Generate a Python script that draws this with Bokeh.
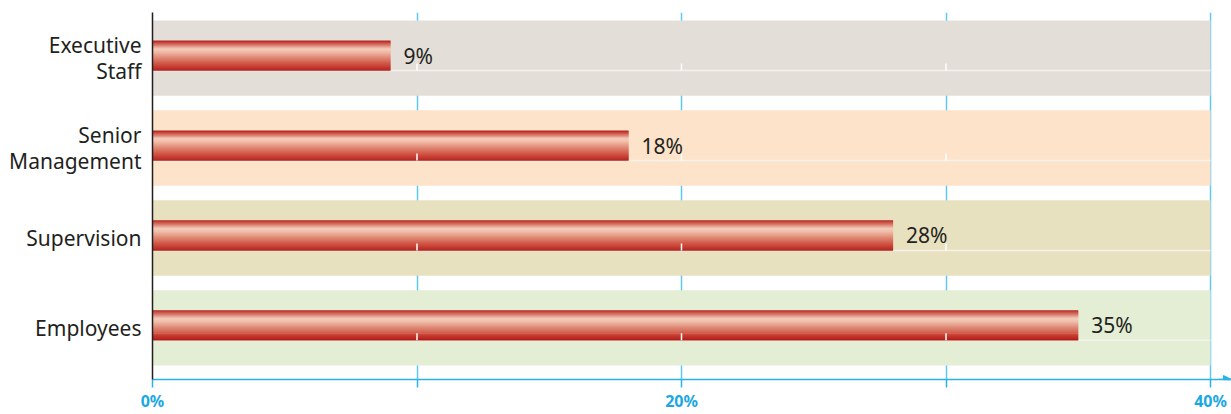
from bokeh.plotting import figure
from bokeh.models import Range1d, FixedTicker, ColumnDataSource, Arrow, NormalHead
from bokeh.core.properties import value
from bokeh.embed import file_html
from bokeh.resources import INLINE

# ---- data ----
categories = ["Executive\nStaff", "Senior\nManagement", "Supervision", "Employees"]
values = [9, 18, 28, 35]
value_labels = ["9%", "18%", "28%", "35%"]
band_colors = ["#e3ded8", "#fde3c9", "#e8e1c0", "#e3eed5"]
x_ticks = [0, 20, 40]
x_minor_ticks = [10, 30]
x_grid_ticks = [10, 20, 30, 40]
x_tick_labels = {0: "0%", 20: "20%", 40: "40%"}
x_max = 40

# ---- styling ----
FONT = "Noto Sans"
TEXT = "#231f20"
BLUE = "#29b3ea"
GRID_BLUE = "#5ec9f3"
Y0, Y1 = -0.5735, 3.507
PX = 370 / (Y1 - Y0)  # pixels per y unit
BAND_H = 76 / PX
BAR_H = 30 / PX
BAR_OFF = 2.5 / PX
N_STRIPS = 30
X_END = 1079 / 26.45
stops = [(0.0, "#ad1a18"), (0.07, "#c8473b"), (0.28, "#f4cbbb"), (0.38, "#f0bba8"),
         (0.6, "#dc7d69"), (0.85, "#c93b2f"), (1.0, "#ae1b17")]


def hex2rgb(h):
    return tuple(int(h[i:i + 2], 16) for i in (1, 3, 5))


def grad(t):
    for (t0, c0), (t1, c1) in zip(stops[:-1], stops[1:]):
        if t <= t1:
            f = (t - t0) / (t1 - t0)
            a, b = hex2rgb(c0), hex2rgb(c1)
            return "#%02x%02x%02x" % tuple(int(round(a[k] + (b[k] - a[k]) * f)) for k in range(3))
    return stops[-1][1]


n = len(categories)
ypos = [n - 1 - i for i in range(n)]

p = figure(width=1231, height=414, output_backend="svg", toolbar_location=None,
           x_range=Range1d(0, X_END), y_range=Range1d(Y0, Y1),
           min_border_left=152, min_border_right=0, min_border_top=12, min_border_bottom=32)
p.outline_line_color = None
p.background_fill_color = "white"

# bands
bands = ColumnDataSource(dict(y=ypos, color=band_colors))
p.hbar(y="y", left=0, right=x_max, height=BAND_H, fill_color="color", line_color=None, source=bands)

# white base line across each band at bar bottom
ybot = [y + BAR_OFF - BAR_H / 2 for y in ypos]
p.segment(x0=[0] * n, x1=[x_max] * n, y0=ybot, y1=ybot, line_color="#f5f2ed", line_width=1.5)

# gradient bars (horizontal strips)
sy, sr, sc = [], [], []
for y, v in zip(ypos, values):
    top = y + BAR_OFF + BAR_H / 2
    for i in range(N_STRIPS):
        sy.append(top - (i + 0.5) * BAR_H / N_STRIPS)
        sr.append(v)
        sc.append(grad((i + 0.5) / N_STRIPS))
strips = ColumnDataSource(dict(y=sy, right=sr, color=sc))
p.hbar(y="y", left=0, right="right", height=BAR_H / N_STRIPS * 1.5, fill_color="color",
       line_color=None, source=strips)

# small white ticks at bar bottom
tx, ty0, ty1 = [], [], []
for yb in ybot:
    for g in x_grid_ticks[:-1]:
        tx.append(g)
        ty0.append(yb)
        ty1.append(yb + 7 / PX)
p.segment(x0=tx, x1=tx, y0=ty0, y1=ty1, line_color="white", line_width=1.5)

# value labels
lab = ColumnDataSource(dict(x=values, y=[y + BAR_OFF for y in ypos], t=value_labels))
p.text(x="x", y="y", text="t", source=lab, x_offset=13, text_baseline="middle",
       text_font=value(FONT), text_font_size="21px", text_color=TEXT)

# axes
p.yaxis.ticker = FixedTicker(ticks=ypos)
p.yaxis.major_label_overrides = {y: c for y, c in zip(ypos, categories)}
p.yaxis.major_label_text_font = FONT
p.yaxis.major_label_text_font_size = "21px"
p.yaxis.major_label_text_color = TEXT
p.yaxis.major_label_text_line_height = 0.95
p.yaxis.major_tick_line_color = None
p.yaxis.minor_tick_line_color = None
p.yaxis.major_tick_out = 0
p.yaxis.major_tick_in = 0
p.yaxis.major_label_standoff = 11
p.yaxis.axis_line_color = TEXT
p.yaxis.axis_line_width = 1.5

p.xaxis.ticker = FixedTicker(ticks=x_ticks, minor_ticks=x_minor_ticks)
p.xaxis.major_label_overrides = x_tick_labels
p.xaxis.major_label_text_font = FONT
p.xaxis.major_label_text_font_style = "bold"
p.xaxis.major_label_text_font_size = "16px"
p.xaxis.major_label_text_color = "#1ba8e2"
p.xaxis.axis_line_color = BLUE
p.xaxis.axis_line_width = 1.5
p.xaxis.major_tick_line_color = BLUE
p.xaxis.major_tick_line_width = 1.5
p.xaxis.major_tick_out = 8
p.xaxis.major_tick_in = 0
p.xaxis.minor_tick_line_color = BLUE
p.xaxis.minor_tick_line_width = 1.5
p.xaxis.minor_tick_out = 8
p.xaxis.minor_tick_in = 0
p.xaxis.major_label_standoff = 2

p.xgrid.ticker = FixedTicker(ticks=x_grid_ticks)
p.xgrid.grid_line_color = GRID_BLUE
p.xgrid.grid_line_width = 1.5
p.ygrid.visible = False

# arrow head at the end of the x axis
p.add_layout(Arrow(end=NormalHead(size=8, fill_color=BLUE, line_color=BLUE),
                   x_start=40.3, x_end=X_END, y_start=Y0, y_end=Y0,
                   line_color=BLUE, line_width=1.5))

open("out.html", "w").write(file_html(p, INLINE))
